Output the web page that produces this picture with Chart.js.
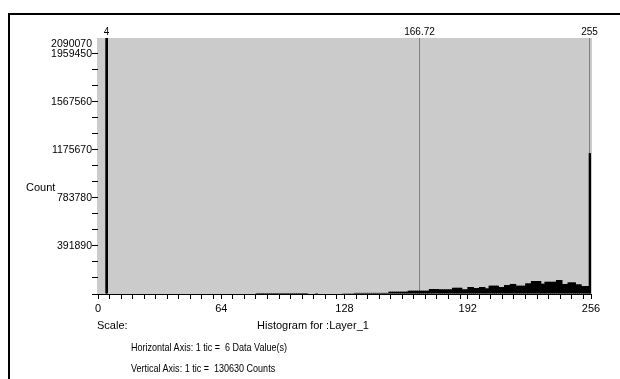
<!DOCTYPE html>
<html>
<head>
<meta charset="utf-8">
<script src="https://cdn.jsdelivr.net/npm/chart.js@4/dist/chart.umd.min.js"></script>
<style>
	body { margin: 0; background: #fff; font-family: "Liberation Sans", Arial, sans-serif; }
	#wrap { position: relative; width: 620px; height: 379px; overflow: hidden; }
	#chartDisplay { position: absolute; left: 0; top: 0; }
	.note { position: absolute; font-size: 11px; line-height: 12px; color: #000; white-space: pre; }
	/* the axis notes are set in a condensed face in the original */
	.narrow { transform: scaleX(0.82); transform-origin: 0 0; }
</style>
</head>
<body>
<div id="wrap">
	<canvas id="chartDisplay" width="620" height="379"></canvas>
	<div class="note" style="left:26px;top:181px">Count</div>
	<div class="note" style="left:97px;top:319px">Scale:</div>
	<div class="note" style="left:257px;top:319px">Histogram for :Layer_1</div>
	<div class="note narrow" style="left:131px;top:341px">Horizontal Axis: 1 tic =  6 Data Value(s)</div>
	<div class="note narrow" style="left:131px;top:362px">Vertical Axis: 1 tic =  130630 Counts</div>
</div>
<script>
// pixel counts per data value 0..255
const counts = [
	0, 0, 0, 0, 2090070, 0, 0, 0, 0, 0, 0, 0, 0, 0, 0, 0,
	0, 0, 0, 0, 0, 0, 0, 0, 0, 0, 0, 0, 0, 0, 0, 0,
	0, 0, 0, 0, 0, 0, 0, 0, 0, 0, 0, 0, 0, 0, 0, 0,
	0, 0, 0, 0, 0, 0, 0, 0, 0, 0, 0, 0, 0, 0, 0, 0,
	0, 0, 0, 0, 0, 0, 0, 0, 0, 0, 0, 0, 0, 0, 0, 0,
	0, 0, 8000, 8000, 8000, 8000, 8000, 8000, 8000, 8000, 8000, 8000, 8000, 8000, 8000, 8000,
	8000, 8000, 8000, 8000, 8000, 8000, 8000, 8000, 8000, 8000, 8000, 8000, 8000, 0, 0, 0,
	0, 8000, 0, 0, 0, 0, 0, 0, 0, 0, 0, 0, 0, 0, 0, 6000,
	6000, 6000, 6000, 6000, 6000, 9000, 9000, 9000, 9000, 9000, 9000, 9000, 9000, 9000, 9000, 9000,
	9000, 9000, 9000, 9000, 9000, 9000, 9000, 19000, 19000, 19000, 19000, 19000, 19000, 19000, 19000, 19000,
	19000, 27000, 27000, 27000, 27000, 27000, 27000, 27000, 27000, 27000, 27000, 27000, 41000, 41000, 41000, 41000,
	41000, 38000, 38000, 38000, 38000, 38000, 38000, 38000, 51000, 51000, 51000, 51000, 51000, 38000, 38000, 38000,
	57000, 57000, 57000, 49000, 49000, 49000, 57000, 57000, 57000, 46000, 46000, 68000, 68000, 68000, 68000, 68000,
	57000, 57000, 57000, 73000, 73000, 73000, 82000, 82000, 82000, 68000, 68000, 68000, 68000, 68000, 87000, 87000,
	87000, 106000, 106000, 106000, 106000, 106000, 84000, 84000, 100000, 100000, 100000, 100000, 100000, 100000, 114000, 114000,
	114000, 82000, 82000, 82000, 95000, 95000, 95000, 95000, 79000, 79000, 79000, 65000, 65000, 65000, 65000, 1150000
];
const markerValues = [4, 166.72, 255];
const xMajorTicks = [0, 64, 128, 192, 256];
const xTic = 6;
const yTic = 130630;
const yMax = 2090070;
const yLabelTicks = [391890, 783780, 1175670, 1567560, 1959450, 2090070];

// tic marks: every 6 values, restarting at each labelled major
var xTicks = [];
xMajorTicks.forEach((m, i) => {
	var next = xMajorTicks[i + 1];
	if (next === undefined) { xTicks.push(m); return; }
	for (var v = m; v < next; v += xTic) xTicks.push(v);
});
var yTicks = [];
for (var k = 0; k * yTic < yMax; k++) yTicks.push(k * yTic);
yTicks.push(yMax);

const fontFamily = "'Liberation Sans', Arial, sans-serif";

const histoPlugin = {
	id: "histoPlugin",
	beforeDraw(chart) {
		const ctx = chart.ctx;
		const a = chart.chartArea;
		ctx.save();
		ctx.fillStyle = "#cbcbcb";
		ctx.fillRect(a.left - 1, a.top, a.right - a.left + 2, a.bottom - a.top);
		ctx.strokeStyle = "#000";
		ctx.lineWidth = 2;
		ctx.strokeRect(9, 14, 800, 600);
		ctx.restore();
	},
	beforeDatasetsDraw(chart) {
		const ctx = chart.ctx;
		const a = chart.chartArea;
		const xs = chart.scales.x;
		ctx.save();
		ctx.strokeStyle = "#808080";
		ctx.lineWidth = 1;
		ctx.fillStyle = "#000";
		ctx.font = "10px " + fontFamily;
		ctx.textAlign = "center";
		ctx.textBaseline = "middle";
		markerValues.forEach(m => {
			var px = Math.round(xs.getPixelForValue(m)) + 0.5;
			ctx.beginPath();
			ctx.moveTo(px, a.top);
			ctx.lineTo(px, a.bottom);
			ctx.stroke();
			ctx.fillText(String(m), px, a.top - 6);
		});
		ctx.restore();
	}
};

const barChartX = document.getElementById("chartDisplay");
new Chart(barChartX, {
	type: "bar",
	data: {
		datasets: [{
			label: "Count",
			data: counts.map((c, i) => ({ x: i + 0.5, y: c })),
			backgroundColor: "#000",
			borderWidth: 0,
			barPercentage: 1.4,
			categoryPercentage: 1,
			grouped: false
		}]
	},
	options: {
		responsive: false,
		devicePixelRatio: 1,
		animation: false,
		layout: { padding: { top: 38, right: 29, bottom: 0, left: 0 } },
		plugins: { legend: { display: false }, tooltip: { enabled: false } },
		scales: {
			x: {
				type: "linear",
				min: 0,
				max: 256,
				offset: false,
				afterBuildTicks: s => { s.ticks = xTicks.map(v => ({ value: v })); },
				afterFit: s => { s.height = 85; },
				ticks: {
					autoSkip: false,
					maxRotation: 0,
					padding: 3,
					color: "#000",
					font: { family: fontFamily, size: 11 },
					callback: v => xMajorTicks.includes(v) ? String(v) : ""
				},
				grid: { drawOnChartArea: false, offset: false, tickLength: 5, color: "#000" },
				border: { display: true, color: "#000" }
			},
			y: {
				min: 0,
				max: yMax,
				afterBuildTicks: s => { s.ticks = yTicks.map(v => ({ value: v })); },
				afterFit: s => { s.width = 98; },
				ticks: {
					autoSkip: false,
					padding: 0,
					color: "#000",
					font: { family: fontFamily, size: 10.5 },
					callback: v => {
						if (v === yMax) return ["", String(v)];
						return yLabelTicks.includes(v) ? String(v) : "";
					}
				},
				grid: {
					drawOnChartArea: false,
					tickLength: 6,
					color: c => (c.tick && c.tick.value === yMax) ? "rgba(0,0,0,0)" : "#000"
				},
				border: { display: false }
			}
		}
	},
	plugins: [histoPlugin]
});
</script>
</body>
</html>
